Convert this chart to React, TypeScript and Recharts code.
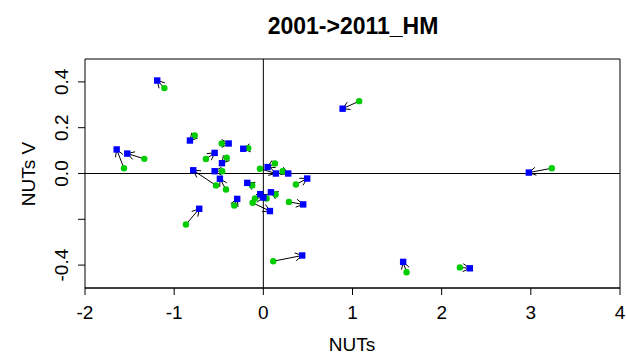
import React from 'react'
import {
  ScatterChart,
  Scatter,
  XAxis,
  YAxis,
  ReferenceLine,
  ReferenceArea,
} from 'recharts'

// 2001 positions (green) -> 2011 positions (blue)
const greenX = [-1.11, -1.563, -1.335, -0.77, -0.531, -0.467, -0.169, -0.644, -0.411, -0.461, -0.038, 0.13, 0.216, 0.365, 0.287, 0.138, -0.419, -0.124, -0.326, -0.868, -0.12, -0.094, 0.037, 1.075, 0.111, 1.606, 3.235, 2.204]
const greenY = [0.373, 0.023, 0.064, 0.166, -0.052, 0.131, 0.111, 0.063, 0.069, 0.01, 0.021, 0.044, 0.01, -0.048, -0.124, -0.092, -0.07, -0.052, -0.14, -0.223, -0.128, -0.109, -0.109, 0.316, -0.383, -0.431, 0.023, -0.41]
const blueX = [-1.19, -1.645, -1.526, -0.823, -0.786, -0.389, -0.225, -0.546, -0.464, -0.546, 0.141, 0.048, 0.279, 0.492, 0.447, 0.085, -0.487, -0.18, -0.293, -0.719, 0.074, 0.0, -0.035, 0.889, 0.436, 1.568, 2.978, 2.316]
const blueY = [0.406, 0.105, 0.087, 0.144, 0.014, 0.131, 0.108, 0.09, 0.045, 0.01, 0.0, 0.028, 0.0, -0.022, -0.135, -0.082, -0.023, -0.041, -0.111, -0.154, -0.164, -0.105, -0.09, 0.283, -0.358, -0.386, 0.004, -0.414]

const xTicks = [-2, -1, 0, 1, 2, 3, 4]
const yTicks = [-0.4, -0.2, 0, 0.2, 0.4]
const yLabelSkip = [-0.2]

const greenPts = greenX.map((x, i) => ({ x, y: greenY[i] }))
const bluePts = blueX.map((x, i) => ({ x, y: blueY[i] }))

const FONT = '"Liberation Sans", Arial, sans-serif'

const ArrowShape = (props: any) => {
  const { x1, y1, x2, y2 } = props
  const ang = Math.atan2(y2 - y1, x2 - x1)
  const len = 8
  const a1 = ang + Math.PI - Math.PI / 6
  const a2 = ang + Math.PI + Math.PI / 6
  return (
    <g stroke="#000" strokeWidth={1} fill="none">
      <line x1={x1} y1={y1} x2={x2} y2={y2} />
      <line x1={x2} y1={y2} x2={x2 + len * Math.cos(a1)} y2={y2 + len * Math.sin(a1)} />
      <line x1={x2} y1={y2} x2={x2 + len * Math.cos(a2)} y2={y2 + len * Math.sin(a2)} />
    </g>
  )
}

const YTick = (props: any) => {
  const { x, y, payload } = props
  const v = payload.value
  if (yLabelSkip.includes(v)) return <g />
  return (
    <text
      x={x}
      y={y}
      transform={`rotate(-90, ${x}, ${y})`}
      textAnchor="middle"
      fontSize={19}
      fontFamily={FONT}
      fill="#000"
    >
      {v.toFixed(1)}
    </text>
  )
}

const GreenDot = (props: any) => <circle cx={props.cx} cy={props.cy} r={3.2} fill="#00cc00" />
const BlueDot = (props: any) => <rect x={props.cx - 3.2} y={props.cy - 3.2} width={6.4} height={6.4} fill="#0000ff" />

export default function App() {
  return (
    <div style={{ position: 'absolute', left: 0, top: 0, width: 626, height: 356, background: '#fff' }}>
      <ScatterChart width={626} height={356} margin={{ top: 59, right: 6, bottom: 28, left: 55 }}>
        <XAxis
          type="number"
          dataKey="x"
          domain={[-2, 4]}
          ticks={xTicks}
          allowDataOverflow
          height={40}
          tickSize={7}
          tickMargin={11}
          axisLine={{ stroke: '#000' }}
          tickLine={{ stroke: '#000' }}
          tick={{ fontSize: 19, fontFamily: FONT, fill: '#000' }}
        />
        <YAxis
          type="number"
          dataKey="y"
          domain={[-0.5, 0.5]}
          ticks={yTicks}
          allowDataOverflow
          width={30}
          tickSize={7}
          tickMargin={10}
          axisLine={false}
          tickLine={{ stroke: '#000' }}
          tick={<YTick />}
        />
        <ReferenceArea x1={-2} x2={4} y1={-0.5} y2={0.5} fill="none" stroke="#000" strokeWidth={1} fillOpacity={0} />
        <ReferenceLine y={0} stroke="#000" strokeWidth={1} />
        <ReferenceLine x={0} stroke="#000" strokeWidth={1} />
        {greenPts.map((g, i) => (
          <ReferenceLine
            key={i}
            segment={[g, bluePts[i]]}
            stroke="#000"
            shape={ArrowShape}
          />
        ))}
        <Scatter data={greenPts} shape={GreenDot} isAnimationActive={false} />
        <Scatter data={bluePts} shape={BlueDot} isAnimationActive={false} />
      </ScatterChart>
      <svg width={626} height={356} style={{ position: 'absolute', left: 0, top: 0, pointerEvents: 'none' }}>
        <text x={353} y={34} textAnchor="middle" fontSize={23} fontWeight="bold" fontFamily={FONT} fill="#000">
          2001-&gt;2011_HM
        </text>
        <text x={352} y={351} textAnchor="middle" fontSize={19} fontFamily={FONT} fill="#000">
          NUTs
        </text>
        <text x={35} y={174} transform="rotate(-90, 35, 174)" textAnchor="middle" fontSize={19} fontFamily={FONT} fill="#000">
          NUTs V
        </text>
      </svg>
    </div>
  )
}
